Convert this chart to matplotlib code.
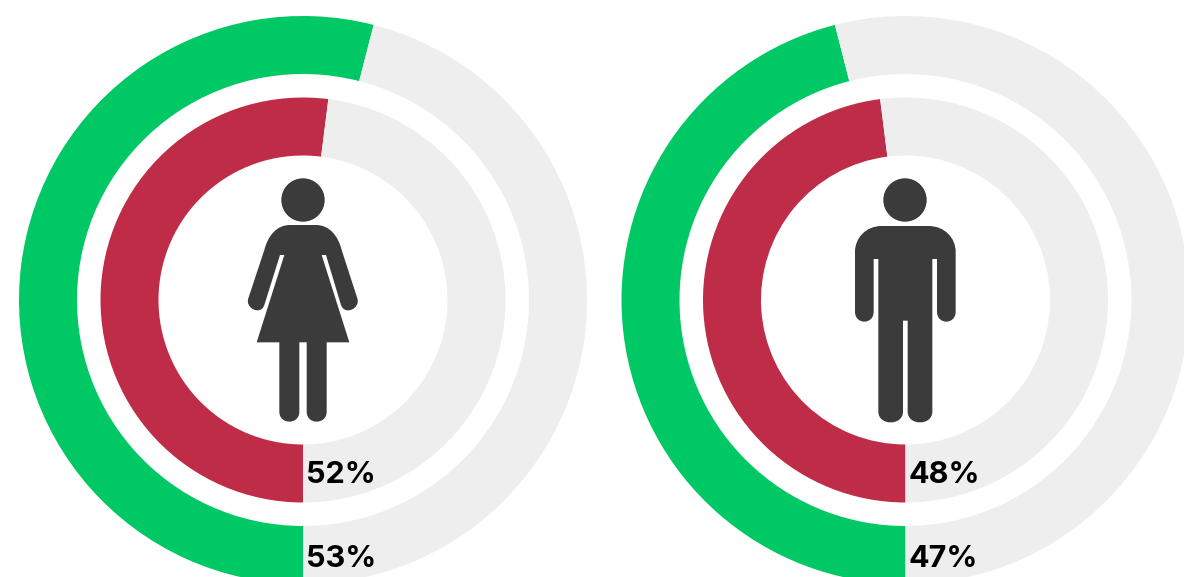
import matplotlib
matplotlib.use("Agg")
import matplotlib.pyplot as plt
from matplotlib.path import Path
from matplotlib.patches import PathPatch, Circle

# arc shares as drawn in the picture (the green arcs do not quite follow their labels)
outer_share = [54, 46]
inner_share = [52, 48]
outer_labels = ["53%", "47%"]
inner_labels = ["52%", "48%"]

GREEN = "#00c864"
RED = "#bf2c47"
GREY = "#eeeeee"
DARK = "#3b3b3b"

W, H = 1184, 577
centers = [(303, 277), (905.5, 277)]


def outline(points, ox, oy):
    # points are in 3x zoomed pixels: (x, y) line, or 3 pairs for a curve
    verts, codes = [], []
    for i, p in enumerate(points):
        if len(p) == 2:
            verts.append(p)
            codes.append(Path.MOVETO if i == 0 else Path.LINETO)
        else:
            verts += [p[0:2], p[2:4], p[4:6]]
            codes += [Path.CURVE4] * 3
    verts.append(points[0])
    codes.append(Path.CLOSEPOLY)
    verts = [(ox + x / 3, H - (oy + y / 3)) for x, y in verts]
    return Path(verts, codes)


woman = [
    (180, 165), (258, 165), (300, 165, 325, 200, 335, 240), (382, 385),
    (392, 415, 345, 438, 333, 405), (288, 255), (275, 255), (358, 517),
    (290, 517), (290, 725), (290, 765, 230, 765, 230, 725), (230, 517),
    (208, 517), (208, 725), (208, 765, 148, 765, 148, 725), (148, 517),
    (80, 517), (163, 255), (150, 255), (103, 405),
    (92, 438, 45, 415, 55, 385), (103, 240), (113, 200, 138, 165, 180, 165),
]
man = [
    (140, 168), (280, 168), (330, 168, 362, 205, 362, 245), (362, 425),
    (362, 465, 306, 465, 306, 425), (306, 267), (292, 267), (292, 725),
    (292, 768, 218, 768, 218, 725), (218, 452), (204, 452), (204, 725),
    (204, 768, 130, 768, 130, 725), (130, 267), (116, 267), (116, 425),
    (116, 465, 60, 465, 60, 425), (60, 245), (60, 205, 92, 168, 140, 168),
]
icons = [
    (woman, 230, 170, (303, H - 200)),
    (man, 835, 170, (905, H - 200)),
]

fig = plt.figure(figsize=(W / 100, H / 100), dpi=100)
ax = fig.add_axes([0, 0, 1, 1])

for i, c in enumerate(centers):
    for share, color, radius, width in [
        (outer_share[i], GREEN, 284, 58),
        (inner_share[i], RED, 202.5, 58),
    ]:
        ax.pie(
            [share, 100 - share],
            colors=[color, GREY],
            startangle=270,
            counterclock=False,
            center=c,
            radius=radius,
            wedgeprops={"width": width, "linewidth": 0},
        )
    art, ox, oy, head = icons[i]
    ax.add_patch(PathPatch(outline(art, ox, oy), facecolor=DARK, edgecolor="none"))
    ax.add_patch(Circle(head, 21.7, facecolor=DARK, edgecolor="none"))
    tx = c[0] + 3.5
    for label, ty in [(inner_labels[i], H - 472), (outer_labels[i], H - 556)]:
        ax.text(tx, ty, label, fontsize=22, fontweight="bold", family="Inter",
                color="black", ha="left", va="center_baseline")

ax.set_xlim(0, W)
ax.set_ylim(0, H)
ax.set_aspect("equal")
ax.set_axis_off()

fig.savefig("out.png", dpi=100, facecolor="white")
